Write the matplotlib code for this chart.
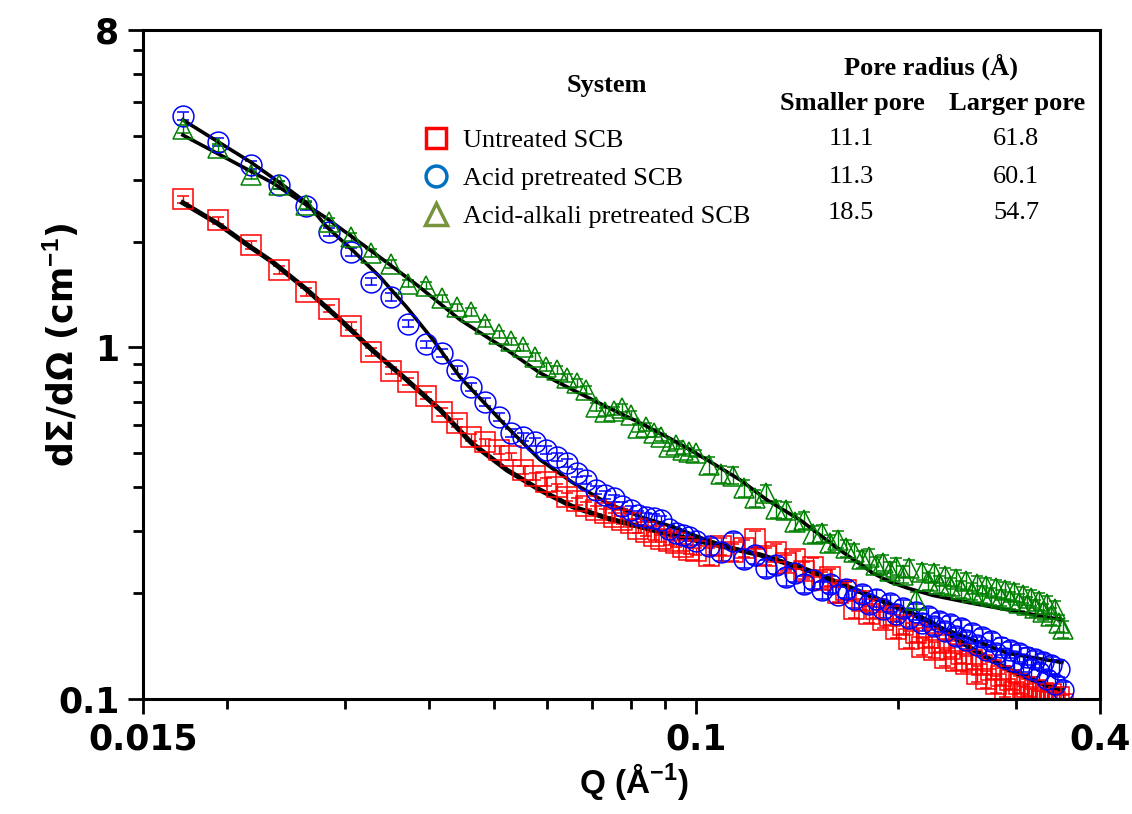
import numpy as np
import matplotlib.pyplot as plt
from matplotlib.lines import Line2D
from matplotlib.ticker import NullFormatter

plt.rcParams.update({
    'font.family': 'Liberation Sans',
    'mathtext.fontset': 'custom',
    'mathtext.rm': 'Liberation Sans:bold',
    'mathtext.bf': 'Liberation Sans:bold',
    'axes.linewidth': 2.2,
})

# Q grid (1/A), shared by the three samples
q = [0.0172, 0.0194, 0.0217, 0.0239, 0.0262, 0.0284, 0.0306, 0.0328, 0.0351, 0.0373,
     0.0396, 0.0418, 0.0440, 0.0463, 0.0485, 0.0508, 0.0530, 0.0552, 0.0575, 0.0597,
     0.0620, 0.0642, 0.0664, 0.0687, 0.0709, 0.0732, 0.0754, 0.0776, 0.0799, 0.0821,
     0.0844, 0.0866, 0.0888, 0.0911, 0.0933, 0.0956, 0.0978, 0.1000,
     0.1045, 0.1090, 0.1135, 0.1180, 0.1225, 0.1270, 0.1315, 0.1360, 0.1405, 0.1450,
     0.1495, 0.1540, 0.1585, 0.1630, 0.1675, 0.1720, 0.1765, 0.1810, 0.1855, 0.1900,
     0.1945, 0.1990, 0.2035, 0.2080, 0.2125, 0.2170, 0.2215, 0.2260, 0.2305, 0.2350,
     0.2395, 0.2440, 0.2485, 0.2530, 0.2575, 0.2620, 0.2665, 0.2710, 0.2755, 0.2800,
     0.2845, 0.2890, 0.2935, 0.2980, 0.3025, 0.3070, 0.3115, 0.3160, 0.3205, 0.3250,
     0.3295, 0.3340, 0.3385, 0.3430, 0.3475, 0.3520]

untreated = [2.64, 2.30, 1.96, 1.66, 1.44, 1.29, 1.15, 0.97, 0.86, 0.80,
             0.73, 0.655, 0.61, 0.555, 0.537, 0.510, 0.490, 0.448, 0.430, 0.415,
             0.400, 0.376, 0.365, 0.355, 0.345, 0.338, 0.330, 0.323, 0.316, 0.304,
             0.298, 0.291, 0.286, 0.281, 0.277, 0.270, 0.265, 0.263,
             0.255, 0.272, 0.262, 0.268, 0.285, 0.255, 0.262, 0.244, 0.250, 0.232,
             0.238, 0.218, 0.222, 0.200, 0.204, 0.180, 0.190, 0.174, 0.180, 0.168,
             0.172, 0.158, 0.162, 0.148, 0.154, 0.141, 0.149, 0.138, 0.144, 0.131,
             0.139, 0.128, 0.134, 0.126, 0.129, 0.118, 0.125, 0.114, 0.121, 0.110,
             0.116, 0.107, 0.113, 0.105, 0.110, 0.103, 0.108, 0.101, 0.106, 0.100,
             0.104, 0.099, 0.103, 0.098, 0.101, 0.097]

acid = [4.56, 3.84, 3.31, 2.90, 2.53, 2.13, 1.87, 1.54, 1.39, 1.17,
        1.02, 0.965, 0.863, 0.772, 0.700, 0.634, 0.571, 0.557, 0.539, 0.511,
        0.488, 0.469, 0.440, 0.420, 0.393, 0.380, 0.372, 0.355, 0.345, 0.334,
        0.330, 0.328, 0.323, 0.305, 0.297, 0.292, 0.289, 0.282,
        0.272, 0.262, 0.282, 0.250, 0.256, 0.236, 0.240, 0.222, 0.228, 0.212,
        0.218, 0.204, 0.212, 0.198, 0.205, 0.192, 0.199, 0.186, 0.193, 0.180,
        0.187, 0.175, 0.181, 0.170, 0.177, 0.165, 0.172, 0.161, 0.167, 0.156,
        0.163, 0.151, 0.159, 0.147, 0.154, 0.142, 0.150, 0.138, 0.146, 0.135,
        0.141, 0.131, 0.138, 0.128, 0.135, 0.126, 0.132, 0.122, 0.130, 0.119,
        0.127, 0.114, 0.125, 0.110, 0.122, 0.106]

acid_alkali = [4.18, 3.70, 3.10, 2.90, 2.54, 2.28, 2.06, 1.86, 1.73, 1.52,
               1.50, 1.38, 1.30, 1.26, 1.17, 1.09, 1.04, 1.00, 0.94, 0.88,
               0.863, 0.819, 0.793, 0.757, 0.677, 0.655, 0.660, 0.673, 0.643, 0.590,
               0.594, 0.571, 0.555, 0.521, 0.527, 0.510, 0.504, 0.500,
               0.462, 0.436, 0.432, 0.398, 0.372, 0.386, 0.346, 0.344, 0.318, 0.322,
               0.294, 0.296, 0.278, 0.284, 0.268, 0.262, 0.250, 0.254, 0.240, 0.244,
               0.232, 0.238, 0.226, 0.236, 0.191, 0.230, 0.216, 0.228, 0.212, 0.224,
               0.209, 0.220, 0.205, 0.216, 0.202, 0.212, 0.199, 0.210, 0.196, 0.207,
               0.194, 0.204, 0.191, 0.201, 0.188, 0.198, 0.185, 0.194, 0.181, 0.190,
               0.177, 0.186, 0.172, 0.180, 0.164, 0.158]

# relative error bars, smaller at low Q than at high Q
err_low_q = 0.025
err_high_q = 0.055

# model fits
fit_q_untreated = [0.0172, 0.0194, 0.0217, 0.0234, 0.0262, 0.0295, 0.0330, 0.0371, 0.0416,
                   0.0463, 0.0523, 0.0586, 0.0656, 0.0737, 0.0826, 0.0923, 0.1039, 0.1247,
                   0.1464, 0.1836, 0.2234, 0.2562, 0.2890, 0.3260, 0.3490]
fit_untreated = [2.58, 2.25, 1.93, 1.75, 1.47, 1.20, 0.98, 0.808, 0.664,
                 0.535, 0.448, 0.393, 0.352, 0.327, 0.309, 0.293, 0.278, 0.257,
                 0.233, 0.195, 0.166, 0.140, 0.1225, 0.111, 0.106]

fit_q_acid = [0.0172, 0.0217, 0.0240, 0.0263, 0.0282, 0.0308, 0.0338, 0.0371, 0.0406,
              0.0445, 0.0523, 0.0586, 0.0656, 0.0737, 0.0826, 0.0923, 0.1039, 0.1164,
              0.1277, 0.1464, 0.1836, 0.2312, 0.2910, 0.3510]
fit_acid = [4.44, 3.37, 2.94, 2.58, 2.20, 1.89, 1.59, 1.30, 1.05,
            0.824, 0.594, 0.479, 0.412, 0.361, 0.330, 0.309, 0.283, 0.265,
            0.254, 0.233, 0.195, 0.160, 0.135, 0.127]

fit_q_acid_alkali = [0.0172, 0.0200, 0.0234, 0.0280, 0.0330, 0.0385, 0.0445, 0.0523, 0.0586,
                     0.0656, 0.0737, 0.0826, 0.0923, 0.1039, 0.1164, 0.1277, 0.1430, 0.1640,
                     0.1740, 0.1836, 0.1950, 0.2064, 0.2257, 0.2589, 0.2840, 0.3510]
fit_acid_alkali = [4.02, 3.45, 2.94, 2.35, 1.87, 1.50, 1.20, 0.984, 0.846,
                   0.757, 0.677, 0.610, 0.546, 0.479, 0.420, 0.368, 0.323, 0.265,
                   0.245, 0.228, 0.215, 0.207, 0.197, 0.187, 0.181, 0.168]

systems = ['Untreated SCB', 'Acid pretreated SCB', 'Acid-alkali pretreated SCB']
smaller_pore = ['11.1', '11.3', '18.5']
larger_pore = ['61.8', '60.1', '54.7']

x_ticks = [0.015, 0.1, 0.4]
x_tick_labels = ['0.015', '0.1', '0.4']
y_ticks = [0.1, 1, 8]
y_tick_labels = ['0.1', '1', '8']

fig = plt.figure(figsize=(11.32, 8.14), dpi=100)
ax = fig.add_axes([0.1263, 0.1413, 0.8454, 0.8218])

q_arr = np.array(q)
series = [(untreated, 's', '#ff0000'),
          (acid, 'o', '#0000ff'),
          (acid_alkali, '^', '#008000')]
for vals, mk, col in series:
    vals = np.array(vals)
    err = np.where(q_arr <= 0.1, err_low_q, err_high_q) * vals
    ax.errorbar(q, vals, yerr=err, fmt=mk, ms=15, mfc='none', mec=col,
                mew=1.1, ecolor=col, elinewidth=1.0, capsize=4.5, capthick=1.0)

ax.plot(fit_q_acid, fit_acid, color='black', lw=2.6)
ax.plot(fit_q_acid_alkali, fit_acid_alkali, color='black', lw=2.6)
ax.plot(fit_q_untreated, fit_untreated, color='black', lw=3.6)

ax.set_xscale('log')
ax.set_yscale('log')
ax.set_xlim(0.015, 0.4)
ax.set_ylim(0.1, 8)

tick_font = dict(family='DejaVu Sans', fontsize=25, fontweight='bold')
ax.set_xticks(x_ticks)
ax.set_xticklabels(x_tick_labels, **tick_font)
ax.set_xticks([0.02, 0.03, 0.04, 0.05, 0.06, 0.07, 0.08, 0.09, 0.2, 0.3], minor=True)
ax.set_yticks(y_ticks)
ax.set_yticklabels(y_tick_labels, **tick_font)
ax.set_yticks([0.2, 0.3, 0.4, 0.5, 0.6, 0.7, 0.8, 0.9, 2, 3, 4, 5, 6, 7], minor=True)
ax.xaxis.set_minor_formatter(NullFormatter())
ax.yaxis.set_minor_formatter(NullFormatter())
ax.tick_params(which='both', direction='out', top=False, right=False, width=2)
ax.tick_params(which='major', length=11, pad=6)
ax.tick_params(which='minor', length=7)

ax.set_xlabel(r'Q (Å$^{\mathbf{-1}}$)', fontsize=24, fontweight='bold')
ax.set_ylabel(r'dΣ/dΩ (cm$^{\mathbf{-1}}$)', family='DejaVu Sans', fontsize=25,
              fontweight='bold')
ax.xaxis.set_label_coords(0.513, -0.094)
ax.yaxis.set_label_coords(-0.065, 0.529)

# table-like legend
handles = [Line2D([], [], ls='none', marker='s', ms=15, mfc='none', mec='#ff0000', mew=2.5),
           Line2D([], [], ls='none', marker='o', ms=15, mfc='none', mec='#0070c0', mew=2.5),
           Line2D([], [], ls='none', marker='^', ms=16, mfc='none', mec='#77933c', mew=2.5)]
ax.legend(handles, systems, loc='upper left', bbox_to_anchor=(0.2926, 0.853),
          frameon=False, handlelength=1.0, handletextpad=0.5, borderpad=0,
          borderaxespad=0, labelspacing=0.55,
          prop={'family': 'Liberation Serif', 'size': 19})

serif = dict(family='Liberation Serif', fontsize=19, ha='center', va='center',
             transform=ax.transAxes)
ax.text(0.4848, 0.9178, 'System', fontweight='bold', **serif)
ax.text(0.8234, 0.9447, 'Pore radius (Å)', fontweight='bold', **serif)
ax.text(0.7409, 0.8909, 'Smaller pore', fontweight='bold', **serif)
ax.text(0.9133, 0.8909, 'Larger pore', fontweight='bold', **serif)
for i, y in enumerate([0.8371, 0.7803, 0.7265]):
    ax.text(0.7398, y, smaller_pore[i], **serif)
    ax.text(0.9122, y, larger_pore[i], **serif)

fig.savefig('out.png', dpi=100)
